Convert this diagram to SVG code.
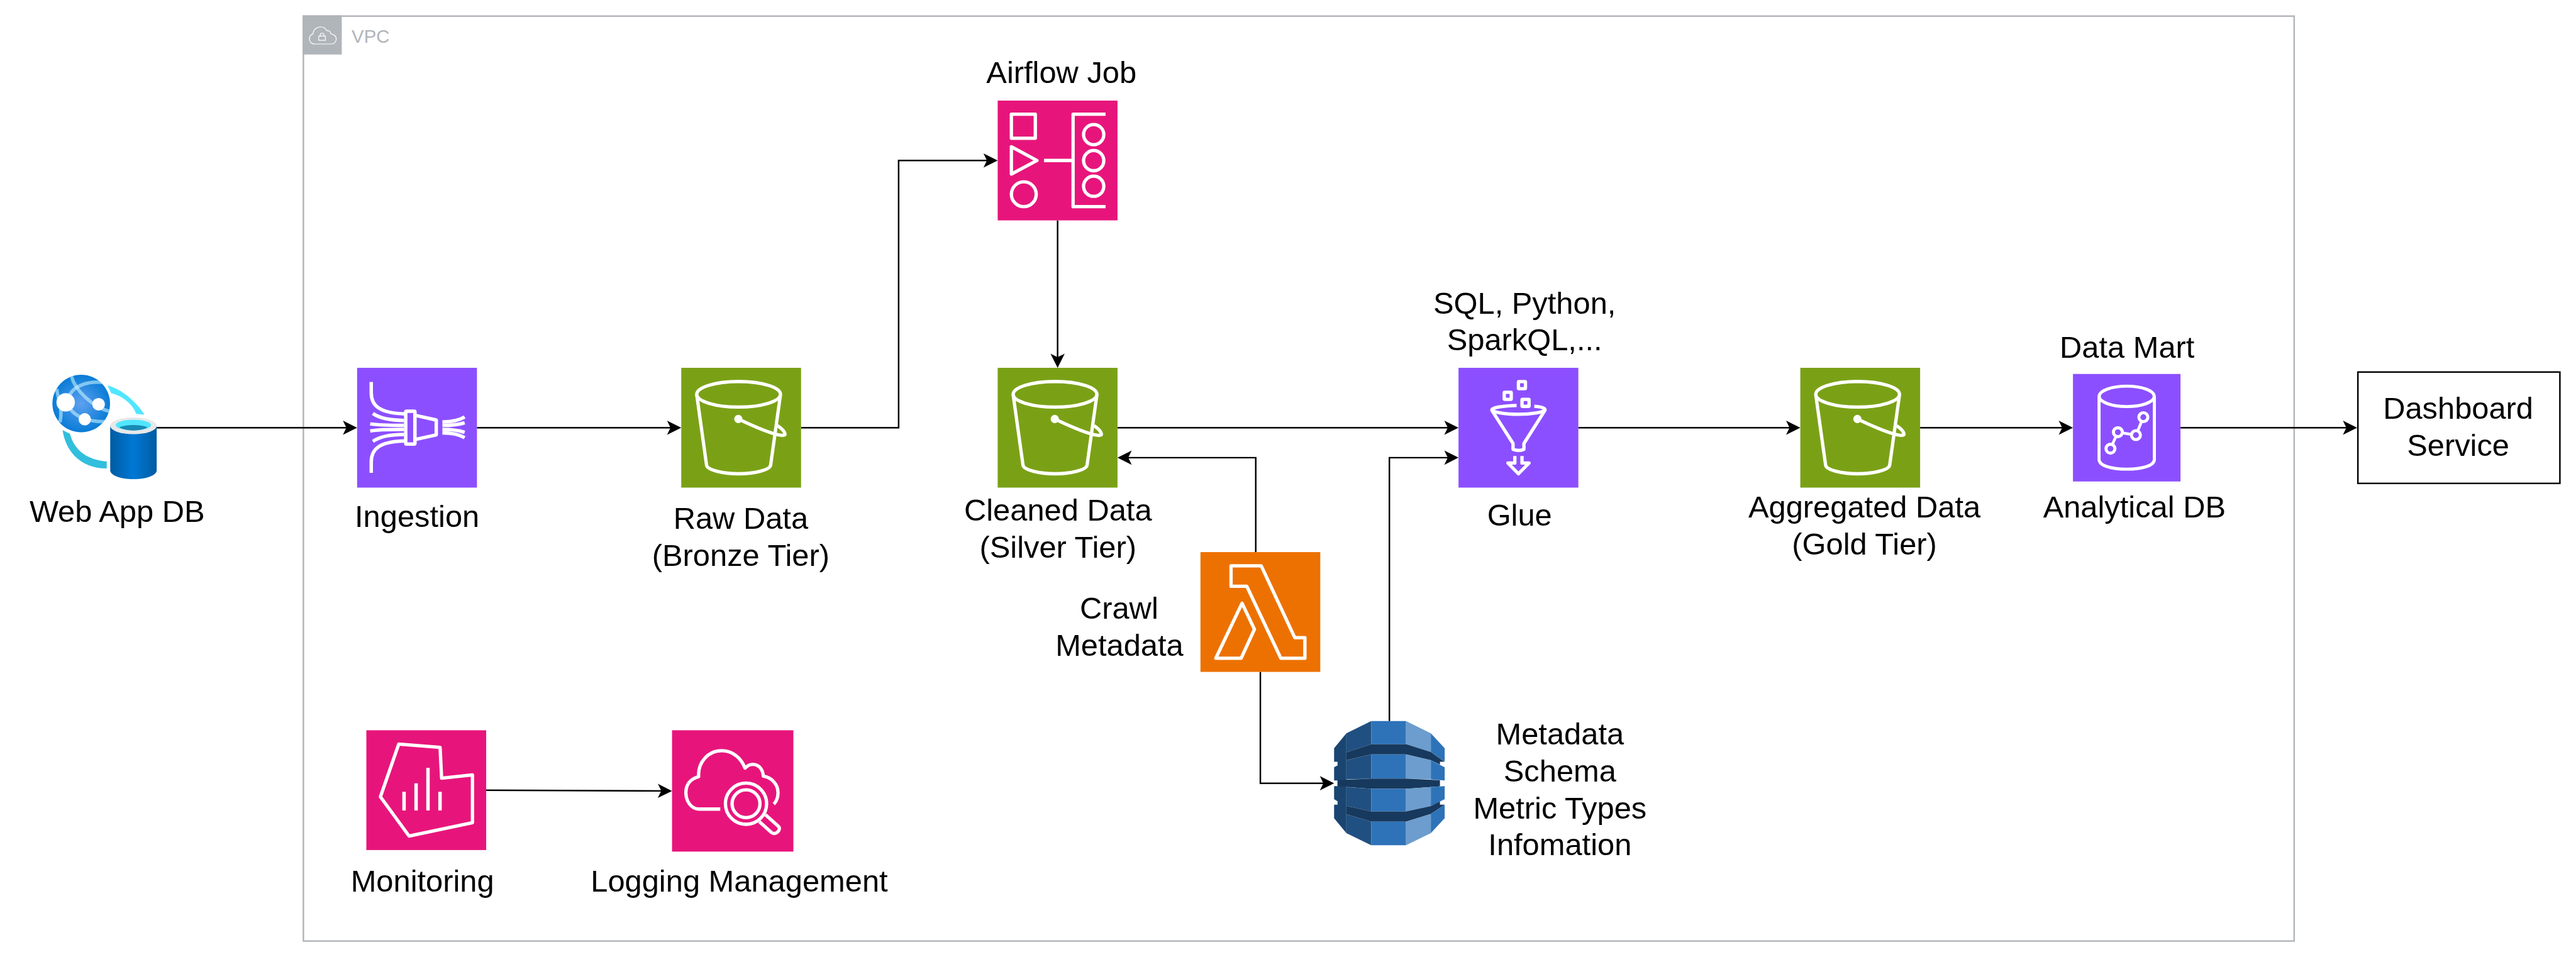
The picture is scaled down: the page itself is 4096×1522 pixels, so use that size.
<svg xmlns="http://www.w3.org/2000/svg" width="4096" height="1522" viewBox="0 0 4096 1522">
<style>
text{font-family:"Liberation Sans",Arial,Helvetica,sans-serif;font-size:80px;fill:#000;text-anchor:middle}
.w{fill:none;stroke:#fff;stroke-width:26;stroke-linejoin:round}
.wf{fill:#fff}
.c{fill:none;stroke:#000;stroke-width:4}
.green{fill:#7AA116}.purple{fill:#8C4FFF}.pink{fill:#E7157B}.orange{fill:#ED7100}
.t{transform:scale(.3333)}
.d0{fill:#1A4571}.d1{fill:#205081}.d2{fill:#2E73B8}.d3{fill:#6C9DCE}.d4{fill:#17395E}
.vpc{fill:none;stroke:#B0B5BA;stroke-width:4}
</style>
<defs>
<marker id="arrow" markerUnits="userSpaceOnUse" markerWidth="37" markerHeight="38" viewBox="0 -19 37 38" refX="31" refY="0" orient="auto" overflow="visible"><path d="M37 0L0-18.5 9 0 0 18.5Z" fill="#000"/></marker>
<radialGradient id="globe" cx=".5" cy=".5" r=".55"><stop offset="0" stop-color="#5EA0EF"/><stop offset="1" stop-color="#0078D4"/></radialGradient>
<linearGradient id="cyl" x1="0" x2="1" y1="0" y2="0"><stop offset="0" stop-color="#005BA1"/><stop offset=".5" stop-color="#0078D4"/><stop offset="1" stop-color="#005BA1"/></linearGradient>
<clipPath id="gc"><circle cx="211.5" cy="1051" r="75"/></clipPath>
<g id="bucket">
<ellipse class="w" cx="448" cy="207" rx="327" ry="100"/>
<path class="w" d="M121 211L198 762C205 800 330 828 448 828S690 800 698 762L775 211"/>
<circle class="wf" cx="446" cy="400" r="32"/>
<path class="w" stroke-width="20" d="M446 400C540 445 640 490 725 515C770 530 815 535 810 515C805 495 780 470 752 452"/>
</g>
</defs>
<g transform="scale(.61062)">
<g id="vpc">
<rect class="vpc" x="790" y="42" width="5184" height="2409"/>
<rect x="788" y="40" width="102" height="102" fill="#B0B5BA"/>
<g transform="translate(760 20) scale(.3333)" fill="none" stroke="#fff" stroke-width="6">
<path d="M180 284C150 284 137 262 137 245C137 222 150 210 165 205C168 170 195 150 225 150C250 150 265 165 272 180C285 175 305 185 305 205C330 210 347 225 347 245C347 265 330 284 310 284Z"/>
<rect x="210" y="222" width="52" height="33"/>
<path d="M222 222V212C222 195 250 195 250 212V222"/>
</g>
<text x="965" y="111" style="font-size:48px;fill:#B0B5BA">VPC</text>
</g>
<g id="connectors">
<path class="c" marker-end="url(#arrow)" d="M408 1114H924"/>
<path class="c" marker-end="url(#arrow)" d="M1242 1114H1768"/>
<path class="c" marker-end="url(#arrow)" d="M2086 1114H2340V418H2592"/>
<path class="c" marker-end="url(#arrow)" d="M2754 574V952"/>
<path class="c" marker-end="url(#arrow)" d="M3270 1438V1192H2916"/>
<path class="c" marker-end="url(#arrow)" d="M2910 1114H3792"/>
<path class="c" marker-end="url(#arrow)" d="M3618 1878V1192H3792"/>
<path class="c" marker-end="url(#arrow)" d="M3282 1750V2040H3468"/>
<path class="c" marker-end="url(#arrow)" d="M4110 1114H4682"/>
<path class="c" marker-end="url(#arrow)" d="M5000 1114H5392"/>
<path class="c" marker-end="url(#arrow)" d="M5678 1114H6132"/>
<path class="c" marker-end="url(#arrow)" d="M1266 2058L1744 2060"/>
</g>
<g id="web-app-db">
<path d="M280 1004C325 1015 365 1060 376 1080L354.600 1078C345 1050 315 1030 289.600 1024Z" fill="#50E6FF"/>
<path d="M163 1120C170 1170 205 1220 278 1220V1202C225 1198 192 1170 182.400 1130Z" fill="#32BEDD"/>
<circle cx="211.500" cy="1051" r="75" fill="url(#globe)" stroke="#fff" stroke-width="0"/>
<g clip-path="url(#gc)" fill="none" stroke="#C3F1FF" stroke-opacity=".6" stroke-width="9">
<path d="M186 980C195 1015 240 1060 286 1072"/>
<path d="M182 1027C195 1005 230 990 275 997"/>
<path d="M148 1013C150 1040 165 1060 156 1100"/>
<path d="M182 1063C195 1085 230 1100 278 1098"/>
</g>
<circle cx="171" cy="1048" r="24" fill="#fff"/><circle cx="256.700" cy="1053" r="16.500" fill="#fff"/><circle cx="220.700" cy="1092" r="16" fill="#fff"/>
<path d="M287 1109V1225C287 1238 314 1248 347.500 1248S408 1238 408 1225V1109Z" fill="url(#cyl)"/>
<ellipse cx="347.500" cy="1109" rx="60.500" ry="22" fill="#E8E8E8"/>
<ellipse cx="347.500" cy="1107" rx="46" ry="14" fill="#50E6FF"/>
<path d="M311 1113C325 1105 370 1105 384 1113C370 1124 325 1124 311 1113Z" fill="#198AB3"/>
<text x="305" y="1360">Web App DB</text>
</g>
<g id="ingestion">
<rect class="purple" x="930" y="958" width="312" height="312"/>
<g transform="translate(930 958)" fill="none" stroke="#fff" stroke-width="9" stroke-linejoin="round">
<path d="M36.700 37V65C36.700 100 60 118 125 120"/><path d="M36.700 273.600V245.600C36.700 210 60 192 125 190.600"/>
<path d="M41 119C60 132 90 137 122 137"/><path d="M41 191.600C60 178 90 173.600 122 173.600"/>
<path d="M34 146C60 150 90 150 122 150"/><path d="M34 164.600C60 160 90 160.600 122 160.600"/>
<rect x="126.500" y="113" width="24" height="85.500" rx="2"/>
<path d="M152 124L206 136V174.600L152 186.600"/>
<path d="M222 141C245 141 265 137 280 128"/><path d="M222 169.600C245 169.600 265 173 280 182"/>
<path d="M222 150C245 150 265 148 280 143"/><path d="M222 160.600C245 160.600 265 163 280 168"/>
</g>
<text x="1086" y="1372">Ingestion</text>
</g>
<g id="raw-data">
<rect class="green" x="1774" y="958" width="312" height="312"/>
<use href="#bucket" transform="translate(1774 958) scale(.3333)"/>
<text x="1929" y="1378">Raw Data</text><text x="1929" y="1474">(Bronze Tier)</text>
</g>
<g id="airflow-job">
<rect class="pink" x="2598" y="262" width="312" height="312"/>
<g transform="translate(2598 262) scale(.3333)">
<rect class="w" x="107" y="106" width="187" height="188"/>
<path class="w" d="M107 361L307 468L107 574Z"/>
<circle class="w" cx="204" cy="732" r="97"/>
<path class="w" d="M362 468H589M843 106H589V829H843"/>
<circle class="w" cx="750" cy="266" r="79"/><circle class="w" cx="750" cy="469" r="79"/><circle class="w" cx="750" cy="669" r="79"/>
</g>
<text x="2764" y="216">Airflow Job</text>
</g>
<g id="cleaned-data">
<rect class="green" x="2598" y="958" width="312" height="312"/>
<use href="#bucket" transform="translate(2598 958) scale(.3333)"/>
<text x="2755" y="1356">Cleaned Data</text><text x="2755" y="1452">(Silver Tier)</text>
</g>
<g id="glue">
<rect class="purple" x="3798" y="958" width="312" height="312"/>
<g transform="translate(3798 958) scale(.3333)">
<rect class="w" x="468" y="108" width="55" height="55" rx="4"/><rect class="w" x="357" y="191" width="55" height="55" rx="4"/><rect class="w" x="496" y="246" width="55" height="55" rx="4"/>
<path class="w" d="M454 294C350 296 260 312 260 328C260 345 360 363 468 363C570 363 676 345 676 328C676 312 640 304 592 301"/>
<path class="w" d="M260 331L426 591V637C450 648 490 648 511 637V591L676 331"/>
<path class="w" d="M440 689V744H386L468 828L551 744H496V689"/>
</g>
<text x="3957" y="1369">Glue</text>
<text x="3970" y="817">SQL, Python,</text><text x="3970" y="913">SparkQL,...</text>
</g>
<g id="aggregated-data">
<rect class="green" x="4688" y="958" width="312" height="312"/>
<use href="#bucket" transform="translate(4688 958) scale(.3333)"/>
<text x="4855" y="1348">Aggregated Data</text><text x="4855" y="1444">(Gold Tier)</text>
</g>
<g id="analytical-db">
<rect class="purple" x="5398" y="974" width="280" height="280"/>
<g transform="translate(5398 974) scale(.3333)">
<ellipse class="w" style="stroke-width:24" cx="420" cy="175" rx="215" ry="80"/>
<path class="w" style="stroke-width:24" d="M204 175V668C204 720 310 744 420 744C530 744 636 720 636 668V175"/>
<path class="w" style="stroke-width:22" d="M293 584L351 455L492 478L550 338"/>
<g fill="#8C4FFF" stroke="#fff" stroke-width="24"><circle cx="293" cy="584" r="35"/><circle cx="351" cy="455" r="35"/><circle cx="492" cy="478" r="35"/><circle cx="550" cy="338" r="35"/></g>
</g>
<text x="5539" y="932">Data Mart</text><text x="5558" y="1347">Analytical DB</text>
</g>
<g id="dashboard-service">
<rect x="6140" y="969" width="526" height="290" fill="#fff" stroke="#000" stroke-width="4"/>
<text x="6401" y="1091">Dashboard</text><text x="6401" y="1187">Service</text>
</g>
<g id="crawl-metadata">
<rect class="orange" x="3126" y="1438" width="312" height="312"/>
<g transform="translate(3126 1438) scale(.3333)">
<path class="w" d="M239 107H475L737 668H816V829H628L362 267H239Z"/>
<path class="w" d="M325 399L422 603L318 829H120Z"/>
</g>
<text x="2914" y="1611">Crawl</text><text x="2915" y="1708">Metadata</text>
</g>
<g id="metadata-store">
<g transform="translate(3420 1850) scale(.3333)">
<path class="d0" d="M258 180L162 297V402H189V430L162 445V548H189V592H162V694L189 710V738H162V843L258 960Z"/>
<path class="d1" d="M258 180L452 84V264L258 328Z"/><path class="d2" d="M452 84H724V264H452Z"/><path class="d3" d="M724 84L918 180V326L724 264Z"/><path class="d2" d="M918 180L1026 297V402L918 326Z"/>
<path class="d4" d="M258 328L452 264H724L918 326L1024 402H989V425L918 390L724 344H452L258 390Z"/>
<path class="d1" d="M258 390L452 344V534L258 540Z"/><path class="d2" d="M452 344H724V534H452Z"/><path class="d3" d="M724 344L918 390V540L724 534Z"/><path class="d2" d="M918 390L989 427L1026 445V548L918 540Z"/>
<path class="d4" d="M189 546L452 534H724L989 546V594L724 614H452L189 594Z"/>
<path class="d1" d="M258 600L452 614V790L258 747Z"/><path class="d2" d="M452 614H724V790H452Z"/><path class="d3" d="M724 614L918 600V748L724 790Z"/><path class="d2" d="M918 600L1026 592V694L918 748Z"/>
<path class="d4" d="M258 747L452 790H724L918 748L989 712V738H1026L918 810L724 870H452L258 812Z"/>
<path class="d1" d="M258 812L452 870V1055L258 960Z"/><path class="d2" d="M452 870H724V1055H452Z"/><path class="d3" d="M724 870L918 810V960L724 1055Z"/><path class="d2" d="M918 810L1026 738V843L918 960Z"/>
</g>
<text x="4062" y="1939">Metadata</text><text x="4062" y="2036">Schema</text><text x="4062" y="2132">Metric Types</text><text x="4062" y="2227">Infomation</text>
</g>
<g id="monitoring">
<rect class="pink" x="954" y="1902" width="312" height="312"/>
<g transform="translate(954 1902) scale(.3333)">
<path class="w" d="M253 108L576 134L588 374L829 349V722L334 827L110 520Z"/>
<path class="wf" d="M281 481h27v146h-27zM375 414h27v213h-27zM468 294h27v333h-27zM562 481h27v146h-27z"/>
</g>
<text x="1100" y="2323">Monitoring</text>
</g>
<g id="logging-management">
<rect class="pink" x="1750" y="1902" width="316" height="316"/>
<g transform="translate(1750 1902) scale(.3333)">
<path class="w" d="M377 616H210C150 616 108 554 108 487C108 424 145 379 208 362C200 254 280 160 388 160C470 160 540 214 570 296C590 274 610 266 632 266C680 266 710 309 713 359C780 369 828 424 828 487C828 524 818 554 795 577"/>
<circle class="w" cx="578" cy="574" r="161"/><circle class="w" cx="578" cy="574" r="109"/>
<path class="w" d="M682 714L777 799C810 825 858 775 830 750L730 660"/>
</g>
<text x="1925" y="2323">Logging Management</text>
</g>
</g>
</svg>
